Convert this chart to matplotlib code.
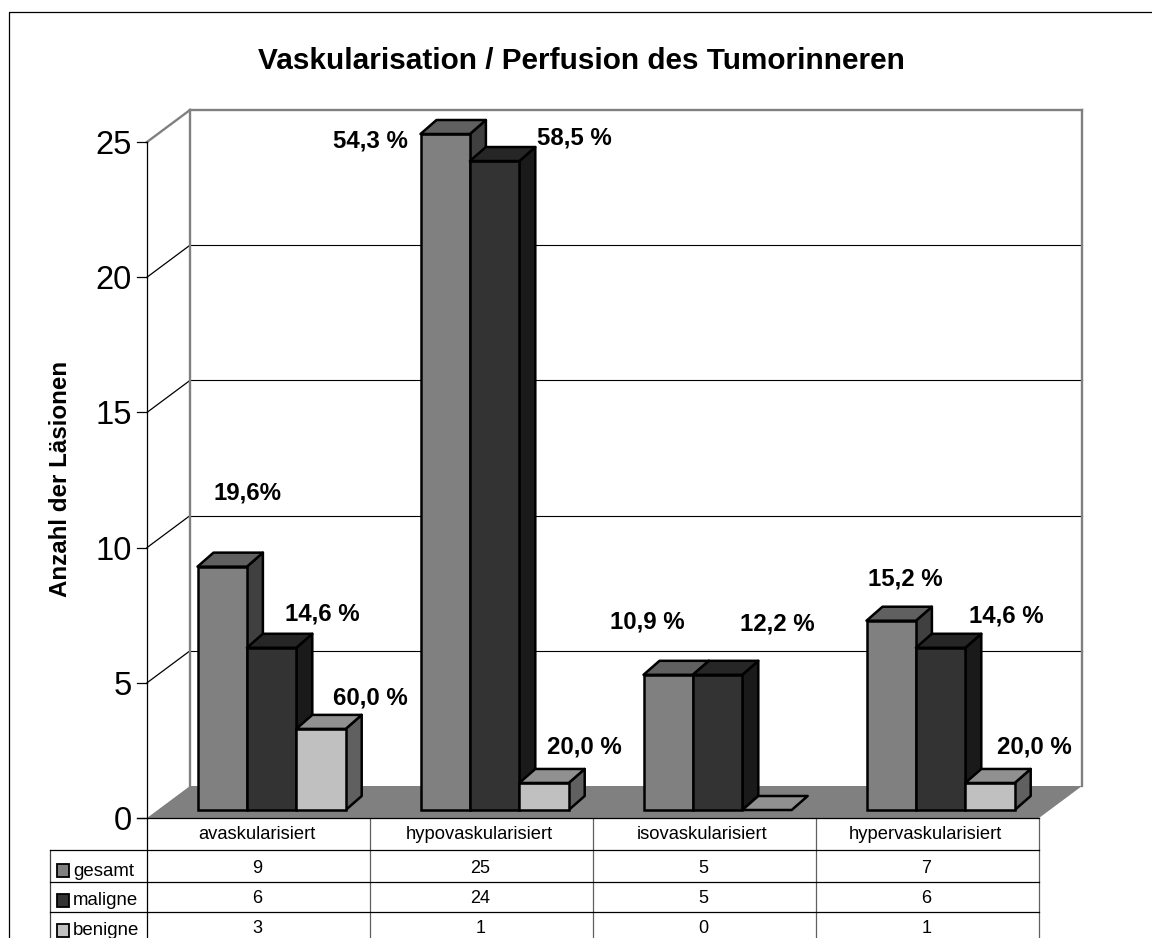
import matplotlib
matplotlib.use('Agg')
import matplotlib.pyplot as plt
from matplotlib.patches import Polygon, Rectangle

plt.rcParams['font.family'] = ['Liberation Sans', 'DejaVu Sans']

categories = ['avaskularisiert', 'hypovaskularisiert', 'isovaskularisiert', 'hypervaskularisiert']
series_names = ['gesamt', 'maligne', 'benigne']
gesamt = [9, 25, 5, 7]
maligne = [6, 24, 5, 6]
benigne = [3, 1, 0, 1]
pct_gesamt = ['19,6%', '54,3 %', '10,9 %', '15,2 %']
pct_maligne = ['14,6 %', '58,5 %', '12,2 %', '14,6 %']
pct_benigne = ['60,0 %', '20,0 %', None, '20,0 %']
y_ticks = [0, 5, 10, 15, 20, 25]

# label anchors, left edge and baseline in image pixels
pos_gesamt = [(213, 499), (333, 147), (610, 628), (868, 585)]
pos_maligne = [(285, 620), (537, 144), (740, 631), (969, 623)]
pos_benigne = [(333, 704), (547, 753), None, (997, 753)]

# face, side, top
col_gesamt = ('#808080', '#404040', '#606060')
col_maligne = ('#333333', '#1a1a1a', '#262626')
col_benigne = ('#c0c0c0', '#606060', '#909090')

W, H = 1152, 938
PX_CAT = 223.0    # pixels per category
PX_VAL = 27.04    # pixels per unit
X0, Y0 = 147, 818 # where category 0 / value 0 sit


def dx(p):
    return p / PX_CAT


def dy(p):
    return p / PX_VAL


def xp(p):
    return (p - X0) / PX_CAT


def yp(p):
    return (Y0 - p) / PX_VAL


fig = plt.figure(figsize=(W / 100, H / 100), dpi=100)
ax = fig.add_axes([0, 0, 1, 1])
ax.set_xlim(xp(0), xp(W))
ax.set_ylim(yp(H), yp(0))
ax.axis('off')

# outer frame
ax.plot([xp(8.5), xp(8.5), xp(W)], [yp(H), yp(12.5), yp(12.5)], color='black', lw=0.9)

n = len(categories)
wall_x = dx(43)
wall_y = dy(32)

# floor
ax.add_patch(Polygon([(0, 0), (wall_x, wall_y), (n + wall_x, wall_y), (n, 0)],
                     facecolor='#808080', edgecolor='none', zorder=1))

# gridlines on back wall and side wall
for t in y_ticks[1:]:
    c = '#808080' if t == y_ticks[-1] else 'black'
    lw = 1.7 if t == y_ticks[-1] else 0.8
    ax.plot([wall_x, n + wall_x], [t + wall_y, t + wall_y], color=c, lw=lw, zorder=1)
    ax.plot([0, wall_x], [t, t + wall_y], color=c, lw=0.9 if t != 25 else 1.7, zorder=1)
ax.plot([wall_x, wall_x], [wall_y, y_ticks[-1] + wall_y], color='#808080', lw=1.7, zorder=1)
ax.plot([n + wall_x, n + wall_x], [wall_y, y_ticks[-1] + wall_y], color='#808080', lw=1.7, zorder=1)

# value axis
ax.plot([0, 0], [0, y_ticks[-1]], color='black', lw=0.9, zorder=2)
for t in y_ticks:
    ax.plot([-dx(10), 0], [t, t], color='black', lw=0.9, zorder=2)
    ax.text(-dx(15), t, str(t), ha='right', va='center_baseline', fontsize=23.5)

# bars
bar_w = dx(49.4)
bar_dx = dx(16)
bar_dy = dy(14)
base = dy(8)
start = dx(50.5)


def draw_bar(x, v, cols):
    b = base
    top = v + base
    if v > 0:
        ax.add_patch(Polygon([(x + bar_w, b), (x + bar_w + bar_dx, b + bar_dy),
                              (x + bar_w + bar_dx, top + bar_dy), (x + bar_w, top)],
                             facecolor=cols[1], edgecolor='black', lw=1.8, zorder=3, joinstyle='round'))
        ax.add_patch(Rectangle((x, b), bar_w, v, facecolor=cols[0], edgecolor='black', lw=1.8, zorder=3))
    ax.add_patch(Polygon([(x, top), (x + bar_dx, top + bar_dy),
                          (x + bar_w + bar_dx, top + bar_dy), (x + bar_w, top)],
                         facecolor=cols[2], edgecolor='black', lw=1.8, zorder=3, joinstyle='round'))


all_series = [gesamt, maligne, benigne]
all_cols = [col_gesamt, col_maligne, col_benigne]
for i in range(n):
    for j in range(3):
        draw_bar(i + start + j * bar_w, all_series[j][i], all_cols[j])

# percent labels
for labels, positions in [(pct_gesamt, pos_gesamt), (pct_maligne, pos_maligne), (pct_benigne, pos_benigne)]:
    for lab, p in zip(labels, positions):
        if lab is None:
            continue
        ax.text(xp(p[0]), yp(p[1]), lab, ha='left', va='baseline', fontsize=17.3, fontweight='bold', zorder=5)

# title and axis label
ax.text(xp(581.5), yp(69), 'Vaskularisation / Perfusion des Tumorinneren', ha='center', va='baseline',
        fontsize=21.4, fontweight='bold')
ax.text(xp(60), yp(479), 'Anzahl der Läsionen', rotation=90, ha='center', va='center',
        fontsize=17.4, fontweight='bold')

# data table
row_y = [818, 850, 882, 912, 938]
value_base = [873, 903, 933]
name_base = [876, 905, 935]
key_top = [864, 894, 924]
for i in range(n + 1):
    ax.plot([i, i], [0, yp(H)], color='#606060' if i else 'black', lw=0.9, zorder=2)
ax.plot([xp(50), xp(50)], [yp(row_y[1]), yp(H)], color='#404040', lw=0.9)
ax.plot([-dx(10), n], [0, 0], color='black', lw=0.9, zorder=2)
for y in row_y[1:4]:
    ax.plot([xp(50), n], [yp(y), yp(y)], color='black', lw=0.9, zorder=2)

for i, c in enumerate(categories):
    ax.text(i + 0.5 - dx(2), yp(839), c, ha='center', va='baseline', fontsize=13.2)
    for j in range(3):
        ax.text(i + 0.5 - dx(1), yp(value_base[j]), str(all_series[j][i]), ha='center', va='baseline', fontsize=13)

for j, name in enumerate(series_names):
    ax.add_patch(Rectangle((xp(57), yp(key_top[j] + 12.5)), dx(12), dy(12.5), facecolor=all_cols[j][0],
                           edgecolor='black', lw=1.3))
    ax.text(xp(73), yp(name_base[j]), name, ha='left', va='baseline', fontsize=13.4)

fig.savefig('out.png', dpi=100, facecolor='white')
